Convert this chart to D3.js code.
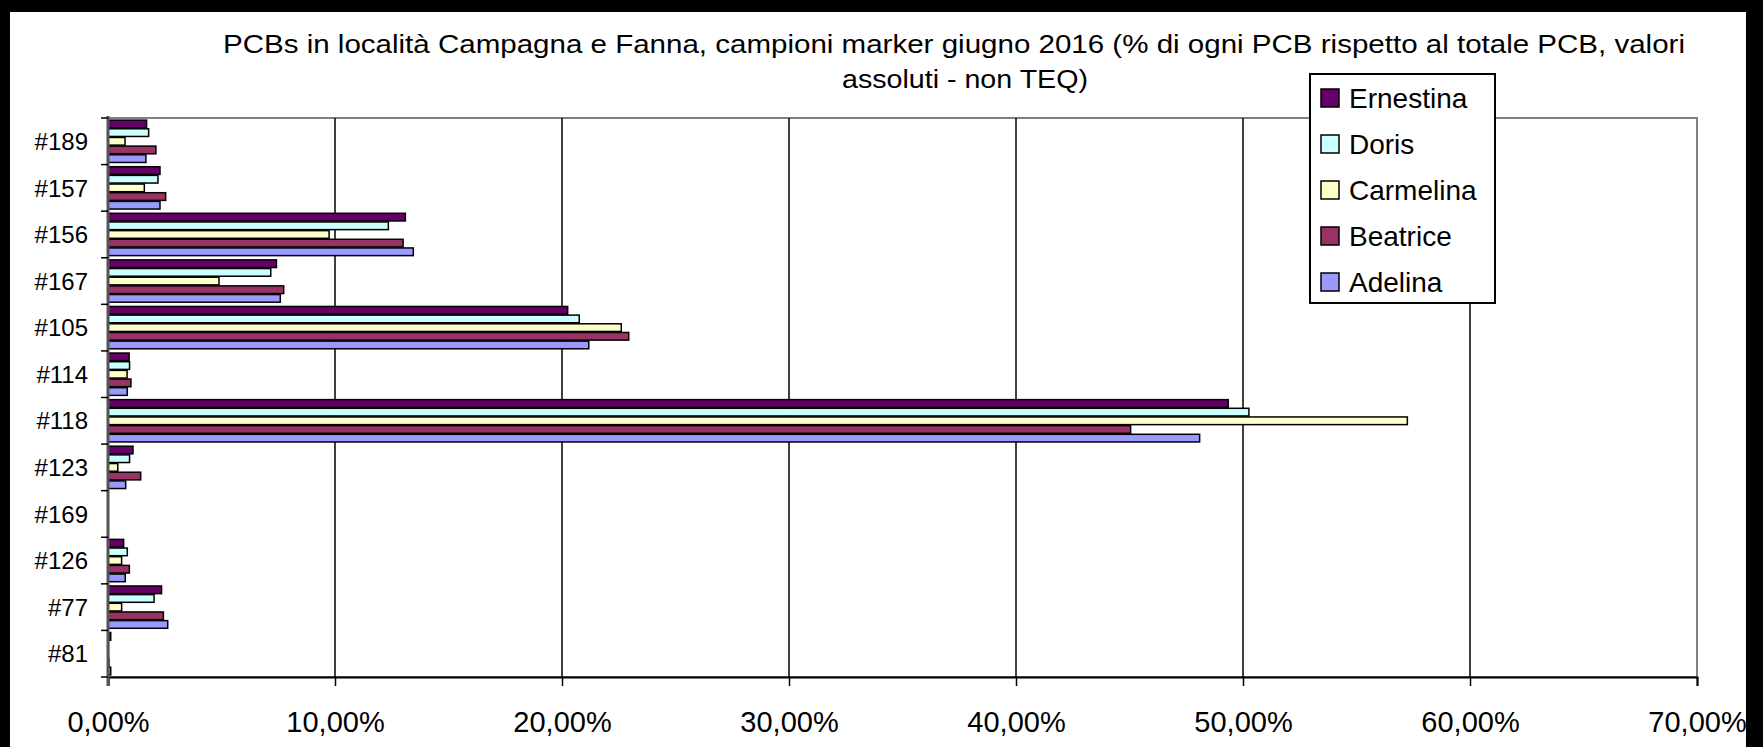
<!DOCTYPE html>
<html>
<head>
<meta charset="utf-8">
<script src="https://cdn.jsdelivr.net/npm/d3@7"></script>
<style>
  html, body { margin: 0; padding: 0; background: #000; }
  svg { display: block; }
  text { font-family: "Liberation Sans", Arial, sans-serif; fill: #000; }
</style>
</head>
<body>
<svg id="chart" width="1763" height="747"></svg>
<script>
// categories, top to bottom as drawn
const categories = ["#189", "#157", "#156", "#167", "#105", "#114", "#118", "#123", "#169", "#126", "#77", "#81"];
const seriesNames = ["Ernestina", "Doris", "Carmelina", "Beatrice", "Adelina"];
const seriesColors = ["#660066", "#CCFFFF", "#FFFFCC", "#993366", "#9999FF"];

// % values per category, same order as categories
const ernestina = [1.70, 2.29, 13.10, 7.42, 20.25, 0.93, 49.35, 1.10, 0, 0.69, 2.36, 0.12];
const doris     = [1.79, 2.20, 12.35, 7.17, 20.76, 0.95, 50.26, 0.95, 0, 0.85, 2.03, 0.02];
const carmelina = [0.75, 1.60,  9.74, 4.89, 22.61, 0.84, 57.24, 0.43, 0, 0.60, 0.60, 0.02];
const beatrice  = [2.11, 2.54, 13.00, 7.74, 22.94, 1.01, 45.05, 1.44, 0, 0.94, 2.44, 0.04];
const adelina   = [1.67, 2.29, 13.45, 7.59, 21.18, 0.85, 48.09, 0.78, 0, 0.76, 2.63, 0.12];
const seriesValues = [ernestina, doris, carmelina, beatrice, adelina];

const xTicks = [0, 10, 20, 30, 40, 50, 60, 70];

const svg = d3.select("#chart");
const W = 1763, H = 747;

// white page inside the black frame
svg.append("rect").attr("x", 10).attr("y", 12).attr("width", W - 27).attr("height", H - 12).attr("fill", "#fff");

const plot = { left: 108, right: 1697, top: 118, bottom: 677 };

const x = d3.scaleLinear().domain([0, 70]).range([plot.left, plot.right]);
const y = d3.scaleBand().domain(categories).range([plot.top, plot.bottom]).paddingInner(0.07).paddingOuter(0.035);
const ySeries = d3.scaleBand().domain(seriesNames).range([0, y.bandwidth()]);
const yEdge = d3.scaleBand().domain(categories).range([plot.top, plot.bottom]);

// plot border
svg.append("rect")
    .attr("x", plot.left).attr("y", plot.top)
    .attr("width", plot.right - plot.left).attr("height", plot.bottom - plot.top)
    .attr("fill", "#fff").attr("stroke", "#808080").attr("stroke-width", 2);

// gridlines
svg.append("g").selectAll("line")
    .data(xTicks.slice(1, -1))
    .join("line")
    .attr("x1", d => x(d)).attr("x2", d => x(d))
    .attr("y1", plot.top).attr("y2", plot.bottom)
    .attr("stroke", "#000").attr("stroke-width", 1.5);

// bars
seriesNames.forEach((name, si) => {
    svg.append("g").selectAll("rect")
        .data(categories.map((c, i) => ({ c, v: seriesValues[si][i] })).filter(d => d.v > 0))
        .join("rect")
        .attr("x", x(0))
        .attr("y", d => y(d.c) + ySeries(name) + 0.5)
        .attr("width", d => x(d.v) - x(0))
        .attr("height", ySeries.bandwidth() - 1)
        .attr("fill", seriesColors[si])
        .attr("stroke", "#000")
        .attr("stroke-width", 1.5);
});

// x axis
const xAxis = d3.axisBottom(x)
    .tickValues(xTicks)
    .tickSize(9)
    .tickFormat(d => d3.format(".2f")(d).replace(".", ",") + "%");
const gx = svg.append("g").attr("transform", `translate(0,${plot.bottom})`).call(xAxis);
gx.select(".domain").attr("stroke", "#000").attr("stroke-width", 2);
gx.selectAll(".tick line").attr("stroke", "#000").attr("stroke-width", 1.5);
gx.selectAll(".tick text")
    .attr("y", 34)
    .attr("font-size", 29)
    .attr("font-family", "Liberation Sans, Arial, sans-serif")
    .attr("fill", "#000");

// y axis line and ticks at category edges
svg.append("line")
    .attr("x1", plot.left).attr("x2", plot.left)
    .attr("y1", plot.top - 2).attr("y2", plot.bottom + 9)
    .attr("stroke", "#555").attr("stroke-width", 3);
svg.append("g").selectAll("line")
    .data(categories.concat(["end"]))
    .join("line")
    .attr("x1", plot.left - 7).attr("x2", plot.left)
    .attr("y1", (d, i) => plot.top + i * yEdge.step())
    .attr("y2", (d, i) => plot.top + i * yEdge.step())
    .attr("stroke", "#000").attr("stroke-width", 1.5);

svg.append("g").selectAll("text")
    .data(categories)
    .join("text")
    .attr("x", 88)
    .attr("y", d => yEdge(d) + yEdge.bandwidth() / 2)
    .attr("dy", "0.36em")
    .attr("text-anchor", "end")
    .attr("font-size", 24)
    .text(d => d);

// title (text in the original is a bit wider than the font)
svg.append("text")
    .attr("x", 954).attr("y", 53)
    .attr("text-anchor", "middle")
    .attr("font-size", 26)
    .attr("textLength", 1462)
    .attr("lengthAdjust", "spacingAndGlyphs")
    .text("PCBs in località Campagna e Fanna, campioni marker giugno 2016 (% di ogni PCB rispetto al totale PCB, valori");
svg.append("text")
    .attr("x", 965).attr("y", 88)
    .attr("text-anchor", "middle")
    .attr("font-size", 26)
    .attr("textLength", 246)
    .attr("lengthAdjust", "spacingAndGlyphs")
    .text("assoluti - non TEQ)");

// legend
const legend = svg.append("g");
legend.append("rect")
    .attr("x", 1310).attr("y", 74).attr("width", 185).attr("height", 229)
    .attr("fill", "#fff").attr("stroke", "#000").attr("stroke-width", 2);
const li = legend.selectAll("g.item")
    .data(seriesNames)
    .join("g")
    .attr("class", "item")
    .attr("transform", (d, i) => `translate(1321,${98 + i * 46})`);
li.append("rect")
    .attr("x", 0).attr("y", -9).attr("width", 18).attr("height", 18)
    .attr("fill", (d, i) => seriesColors[i])
    .attr("stroke", "#000").attr("stroke-width", 1.5);
li.append("text")
    .attr("x", 28).attr("dy", "0.36em")
    .attr("font-size", 28)
    .text(d => d);
</script>
</body>
</html>
